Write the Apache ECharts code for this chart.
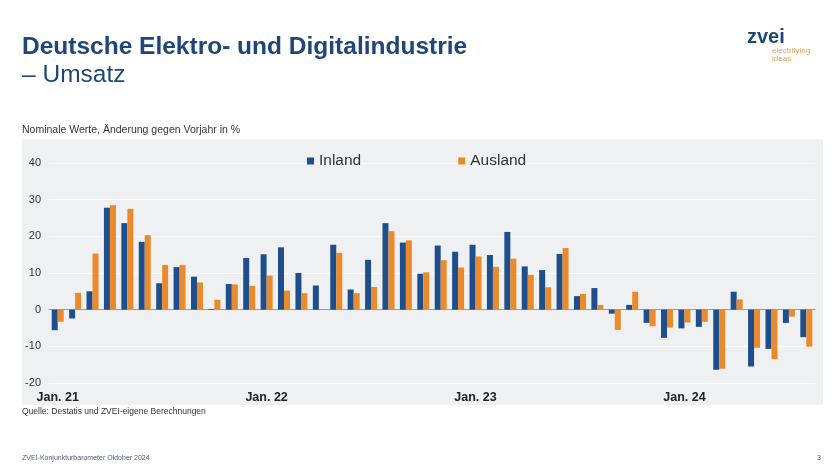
<!DOCTYPE html>
<html>
<head>
<meta charset="utf-8">
<script src="https://cdn.jsdelivr.net/npm/echarts@6/dist/echarts.min.js"></script>
<style>
html,body{margin:0;padding:0;background:#fff;}
#chart{width:840px;height:473px;}
</style>
</head>
<body>
<div id="chart"></div>
<script>
const months = ['Jan.','Feb.','Mär.','Apr.','Mai','Jun.','Jul.','Aug.','Sep.','Okt.','Nov.','Dez.'];
const years = ['21','22','23','24'];
const categories = [];
for (const y of years) for (const m of months) categories.push(m + ' ' + y);
categories.length = 44; // Jan. 21 – Aug. 24

const inland = [
  -5.6, -2.4, 5.0, 27.8, 23.6, 18.5, 7.2, 11.6, 9.0, 0.2, 7.0, 14.1,
  15.1, 17.0, 10.0, 6.6, 17.7, 5.5, 13.6, 23.6, 18.3, 9.8, 17.5, 15.8,
  17.7, 14.9, 21.2, 11.8, 10.8, 15.2, 3.7, 5.9, -1.1, 1.3, -3.6, -7.7,
  -5.1, -4.7, -16.4, 4.9, -15.5, -10.7, -3.6, -7.5
];
const ausland = [
  -3.3, 4.6, 15.3, 28.5, 27.5, 20.3, 12.2, 12.2, 7.4, 2.7, 6.9, 6.5,
  9.3, 5.2, 4.5, null, 15.5, 4.5, 6.2, 21.4, 18.9, 10.2, 13.5, 11.5,
  14.5, 11.7, 13.9, 9.5, 6.1, 16.8, 4.3, 1.3, -5.5, 4.9, -4.5, -4.9,
  -3.5, -3.3, -16.1, 2.8, -10.4, -13.5, -1.9, -10.1
];
const yTicks = { min: -20, max: 40, interval: 10 };

const chart = echarts.init(document.getElementById('chart'), null, {renderer: 'canvas'});
const FONT = '"Liberation Sans", Arial, sans-serif';
chart.setOption({
  animation: false,
  backgroundColor: '#ffffff',
  textStyle: { fontFamily: FONT },
  graphic: [
    { type: 'rect', z: -10, silent: true,
      shape: { x: 22, y: 139, width: 801, height: 266 },
      style: { fill: '#eef0f1' } },
    { type: 'text', left: 22, top: 35,
      style: { text: 'Deutsche Elektro- und Digitalindustrie', font: 'bold 24.5px ' + FONT, fill: '#1f4678' } },
    { type: 'text', left: 22, top: 63,
      style: { text: '– Umsatz', font: '24.5px ' + FONT, fill: '#1f4678' } },
    { type: 'text', left: 747, top: 27,
      style: { text: 'zvei', font: 'bold 20px ' + FONT, fill: '#1f4678' } },
    { type: 'text', left: 772, top: 47,
      style: { text: 'electrifying\nideas', font: '8px ' + FONT, fill: '#e3a25a', lineHeight: 8 } },
    { type: 'text', left: 22, top: 125,
      style: { text: 'Nominale Werte, Änderung gegen Vorjahr in %', font: '10.5px ' + FONT, fill: '#333' } },
    { type: 'text', left: 22, top: 407,
      style: { text: 'Quelle: Destatis und ZVEI-eigene Berechnungen', font: '8.5px ' + FONT, fill: '#333' } },
    { type: 'text', left: 22, top: 455,
      style: { text: 'ZVEI-Konjunkturbarometer Oktober 2024', font: '7px ' + FONT, fill: '#4a5a7a' } },
    { type: 'text', left: 817, top: 455,
      style: { text: '3', font: '7px ' + FONT, fill: '#4a5a7a' } }
  ],
  legend: {
    left: 307, top: 153, padding: 0,
    icon: 'rect', itemWidth: 7, itemHeight: 7, itemGap: 97,
    textStyle: { fontSize: 15.5, color: '#333', fontFamily: FONT },
    data: ['Inland', 'Ausland']
  },
  grid: { left: 49, right: 25, top: 163, bottom: 90, containLabel: false },
  xAxis: {
    type: 'category',
    data: categories,
    boundaryGap: true,
    axisLine: { onZero: true, lineStyle: { color: '#9a9a9a', width: 1 } },
    axisTick: { show: false },
    axisLabel: {
      interval: (i) => i % 12 === 0,
      formatter: (v) => v,
      fontWeight: 'bold', fontSize: 12.5, color: '#222', fontFamily: FONT,
      margin: 8
    }
  },
  yAxis: {
    type: 'value',
    min: yTicks.min, max: yTicks.max, interval: yTicks.interval,
    axisLine: { show: false },
    axisTick: { show: false },
    splitLine: { lineStyle: { color: '#fbfbfb', width: 1 } },
    axisLabel: { fontSize: 11, color: '#333', margin: 8, fontFamily: FONT }
  },
  series: [
    { name: 'Inland', type: 'bar', data: inland, barWidth: 6, barGap: '0%',
      itemStyle: { color: '#1f4e8c' } },
    { name: 'Ausland', type: 'bar', data: ausland, barWidth: 6,
      itemStyle: { color: '#ea8a2b' } }
  ]
});
</script>
</body>
</html>
